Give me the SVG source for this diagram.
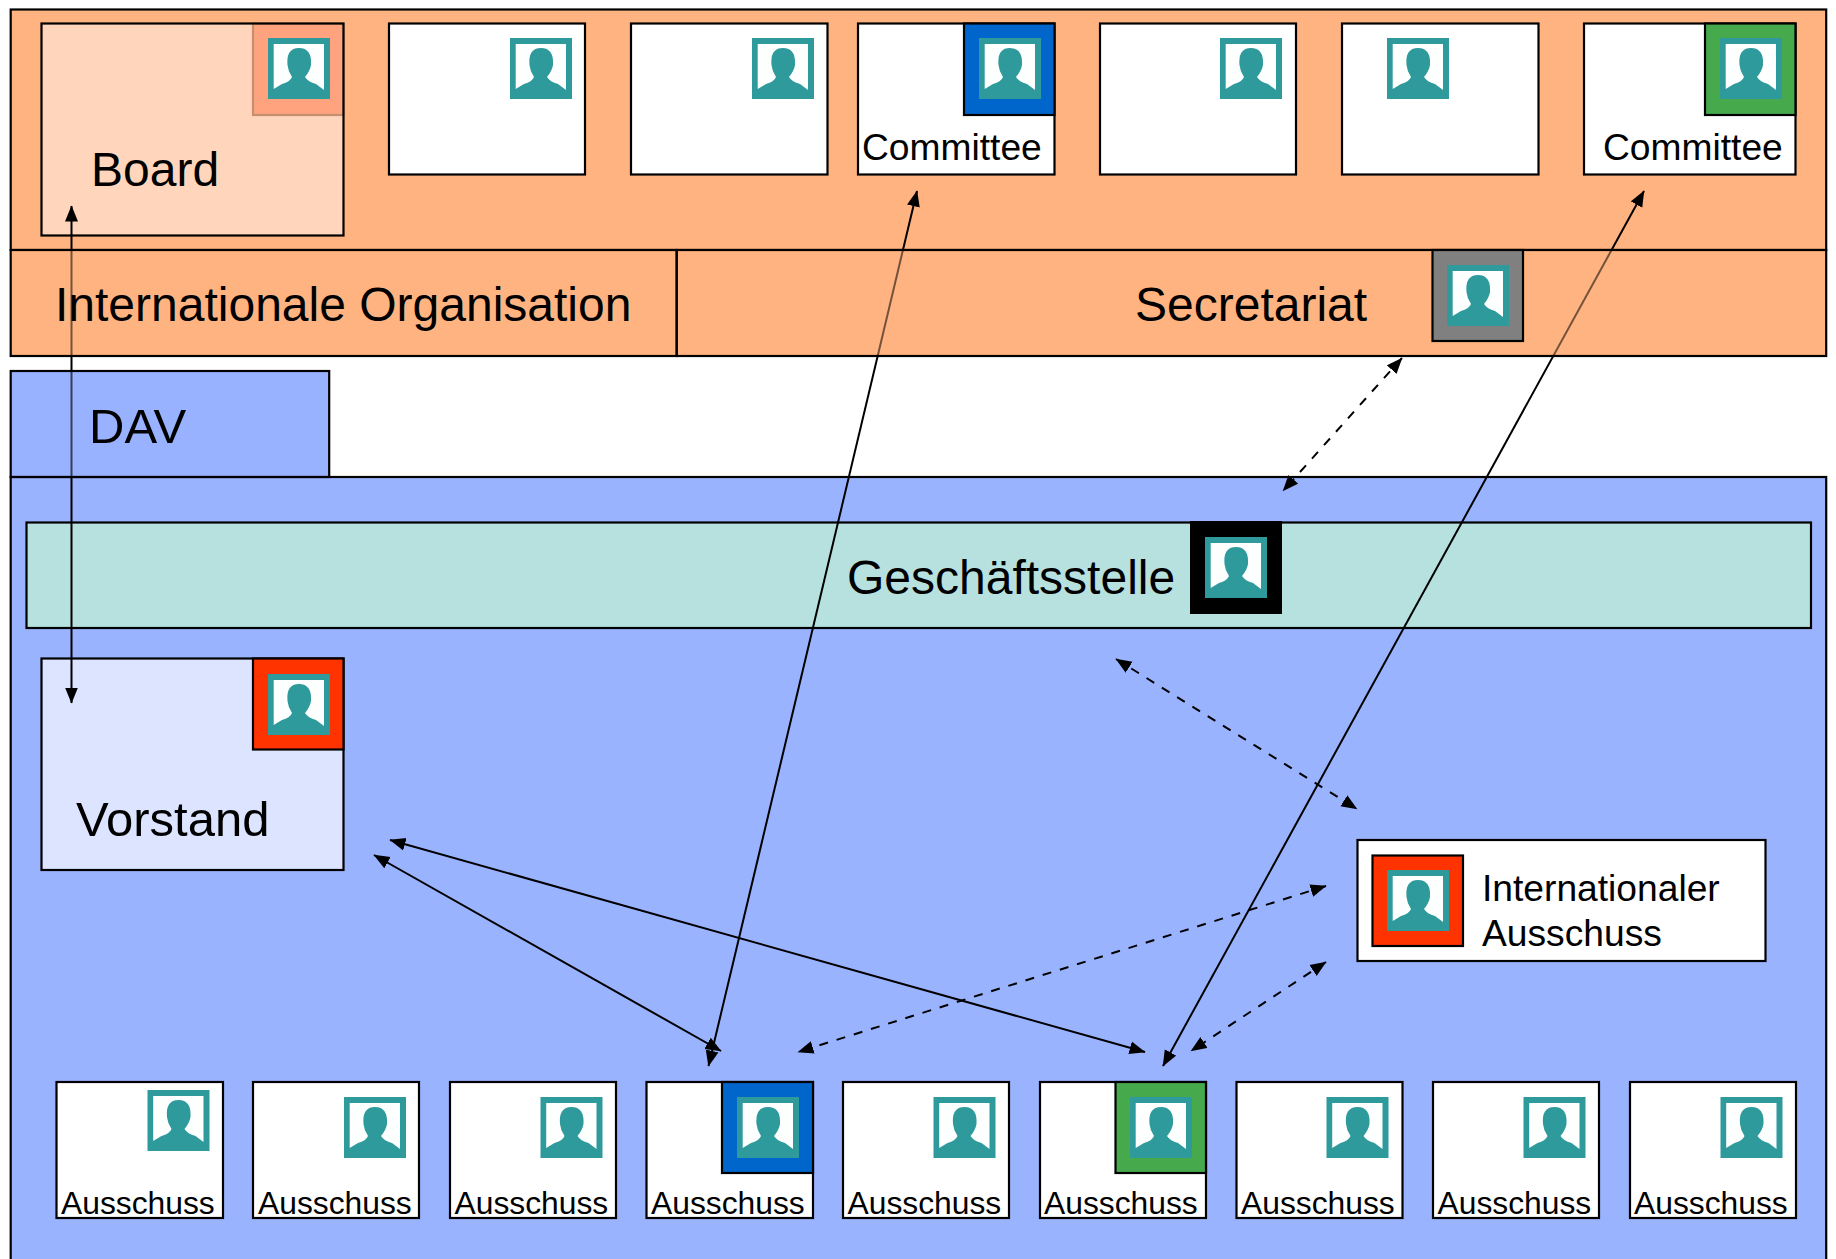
<svg xmlns="http://www.w3.org/2000/svg" width="1836" height="1259" viewBox="0 0 1836 1259">
<style>
text{font-family:"Liberation Sans",Arial,sans-serif;fill:#000}
.xl{font-size:48px}.xx{font-size:49px}.l{font-size:37.2px}.m{font-size:37.2px}.s{font-size:31.8px}
.b{stroke:#000;stroke-width:2.2}
.w{fill:#fff}
.c{fill:none;stroke:#000;stroke-width:2}
.d{stroke-dasharray:9 9}
</style>
<defs>
<marker id="a" markerUnits="userSpaceOnUse" markerWidth="18" markerHeight="14" refX="15.5" refY="7" orient="auto-start-reverse"><path d="M0 0.5L16 7L0 13.5Z" fill="#000"/></marker>
<g id="icon"><rect width="62" height="61" fill="#2e9a9c"/><path d="M5.7 6H56V52L48 46Q40 44 37 39Q42 33 43 27Q44 10 31 10Q18 10 19.5 27Q20 33 24 39Q22 44 14 46L5.7 51Z" fill="#fdfefe"/></g>
</defs>
<rect width="1836" height="1259" fill="#fff"/>
<g id="panel-international"><rect class="b" x="10.7" y="9.5" width="1815.500" height="240.5" fill="#ffb380"/><rect x="10.7" y="250" width="1815.500" height="106" fill="#ffb380"/></g>
<g id="panel-dav"><rect x="10.7" y="371" width="318.5" height="106" fill="#99b3ff"/><rect class="b" x="10.7" y="477" width="1815.500" height="790" fill="#99b3ff"/></g>
<g id="board"><rect x="41.500" y="23.5" width="302" height="212" fill="#ffd5bb"/><rect x="253" y="23.5" width="90.500" height="91.5" fill="#ffa37e" stroke="#c4906f" stroke-width="2.2"/><use href="#icon" x="268" y="38"/><rect class="b" x="41.500" y="23.5" width="302" height="212" fill="none"/><text class="xl" x="91" y="185.500">Board</text></g>
<g id="box-2"><rect class="b w" x="389" y="23.5" width="196" height="151"/><use href="#icon" x="510" y="38"/></g>
<g id="box-3"><rect class="b w" x="631" y="23.5" width="196.500" height="151"/><use href="#icon" x="752" y="38"/></g>
<g id="committee-1"><rect class="b w" x="858" y="23.5" width="196.500" height="151"/><rect class="b" x="964" y="23.5" width="90.500" height="91.5" fill="#0066cc"/><use href="#icon" x="979" y="38"/><text class="l" x="862" y="160">Committee</text></g>
<g id="box-5"><rect class="b w" x="1100" y="23.5" width="196" height="151"/><use href="#icon" x="1220" y="38"/></g>
<g id="box-6"><rect class="b w" x="1342" y="23.5" width="196.500" height="151"/><use href="#icon" x="1387" y="38"/></g>
<g id="committee-2"><rect class="b w" x="1584" y="23.5" width="211.500" height="151"/><rect class="b" x="1705" y="23.5" width="90.500" height="91.5" fill="#46a94b"/><use href="#icon" x="1720" y="38"/><text class="l" x="1603" y="160">Committee</text></g>
<g id="geschaeftsstelle"><rect class="b" x="26.500" y="522.500" width="1784.500" height="105.500" fill="#b7e1df"/><rect x="1190" y="521" width="92" height="93" fill="#000"/><use href="#icon" x="1205" y="537"/><text class="xl" x="847" y="594">Geschäftsstelle</text></g>
<g id="vorstand"><rect class="b" x="41.500" y="658.500" width="302" height="211.500" fill="#dce4ff"/><rect class="b" x="253" y="658.500" width="90.500" height="91" fill="#ff3300"/><use href="#icon" x="268" y="674"/><text class="xx" x="76" y="836">Vorstand</text></g>
<g id="internationaler-ausschuss"><rect class="b w" x="1357.500" y="840" width="408" height="121"/><rect class="b" x="1372.500" y="855.500" width="90.500" height="90.500" fill="#ff3300"/><use href="#icon" x="1387" y="870"/><text class="m" x="1482" y="901">Internationaler</text><text class="m" x="1482" y="946">Ausschuss</text></g>
<g id="ausschuss-1"><rect class="b w" x="56.500" y="1082" width="166.500" height="136"/><use href="#icon" x="147.500" y="1090"/><text class="s" x="61" y="1214">Ausschuss</text></g>
<g id="ausschuss-2"><rect class="b w" x="253" y="1082" width="166" height="136"/><use href="#icon" x="344" y="1097"/><text class="s" x="258" y="1214">Ausschuss</text></g>
<g id="ausschuss-3"><rect class="b w" x="450" y="1082" width="166" height="136"/><use href="#icon" x="540.500" y="1097"/><text class="s" x="454.500" y="1214">Ausschuss</text></g>
<g id="ausschuss-4"><rect class="b w" x="646.500" y="1082" width="166.500" height="136"/><rect class="b" x="722" y="1082" width="91" height="91" fill="#0066cc"/><use href="#icon" x="737" y="1097"/><text class="s" x="651" y="1214">Ausschuss</text></g>
<g id="ausschuss-5"><rect class="b w" x="843" y="1082" width="166" height="136"/><use href="#icon" x="933.500" y="1097"/><text class="s" x="847.500" y="1214">Ausschuss</text></g>
<g id="ausschuss-6"><rect class="b w" x="1040" y="1082" width="166" height="136"/><rect class="b" x="1115.500" y="1082" width="90.500" height="91" fill="#46a94b"/><use href="#icon" x="1130" y="1097"/><text class="s" x="1044" y="1214">Ausschuss</text></g>
<g id="ausschuss-7"><rect class="b w" x="1236.500" y="1082" width="166" height="136"/><use href="#icon" x="1326.500" y="1097"/><text class="s" x="1241" y="1214">Ausschuss</text></g>
<g id="ausschuss-8"><rect class="b w" x="1433" y="1082" width="166" height="136"/><use href="#icon" x="1523.500" y="1097"/><text class="s" x="1437.500" y="1214">Ausschuss</text></g>
<g id="ausschuss-9"><rect class="b w" x="1630" y="1082" width="166" height="136"/><use href="#icon" x="1720.500" y="1097"/><text class="s" x="1634" y="1214">Ausschuss</text></g>
<g id="connectors">
<line class="c" x1="71.500" y1="206" x2="71.500" y2="703" marker-start="url(#a)" marker-end="url(#a)"/>
<line class="c" x1="917" y1="191" x2="708.500" y2="1066" marker-start="url(#a)" marker-end="url(#a)"/>
<line class="c" x1="1644" y1="191" x2="1163" y2="1066" marker-start="url(#a)" marker-end="url(#a)"/>
<line class="c d" x1="1402" y1="358" x2="1283" y2="491" marker-start="url(#a)" marker-end="url(#a)"/>
<line class="c d" x1="1116" y1="659" x2="1357" y2="809" marker-start="url(#a)" marker-end="url(#a)"/>
<line class="c" x1="390" y1="840" x2="1145" y2="1052" marker-start="url(#a)" marker-end="url(#a)"/>
<line class="c" x1="374" y1="855" x2="721" y2="1051" marker-start="url(#a)" marker-end="url(#a)"/>
<line class="c d" x1="1326" y1="886" x2="798" y2="1052" marker-start="url(#a)" marker-end="url(#a)"/>
<line class="c d" x1="1326" y1="962" x2="1191" y2="1051" marker-start="url(#a)" marker-end="url(#a)"/>
</g>
<g id="internationale-organisation"><rect x="10.7" y="250" width="1815.500" height="106" fill="#ffb380" fill-opacity=".45"/><rect class="b" x="10.7" y="250" width="666" height="106" fill="none"/><text class="xl" x="55" y="321">Internationale Organisation</text></g>
<g id="secretariat"><rect class="b" x="676.700" y="250" width="1149.500" height="106" fill="none"/><rect class="b" x="1432.500" y="250" width="90.500" height="91" fill="#808080"/><use href="#icon" x="1447" y="265"/><text class="xl" x="1135" y="321">Secretariat</text></g>
<g id="dav"><rect class="b" x="10.7" y="371" width="318.500" height="106" fill="#99b3ff" fill-opacity=".35"/><text class="xx" x="89" y="443">DAV</text></g>
</svg>
